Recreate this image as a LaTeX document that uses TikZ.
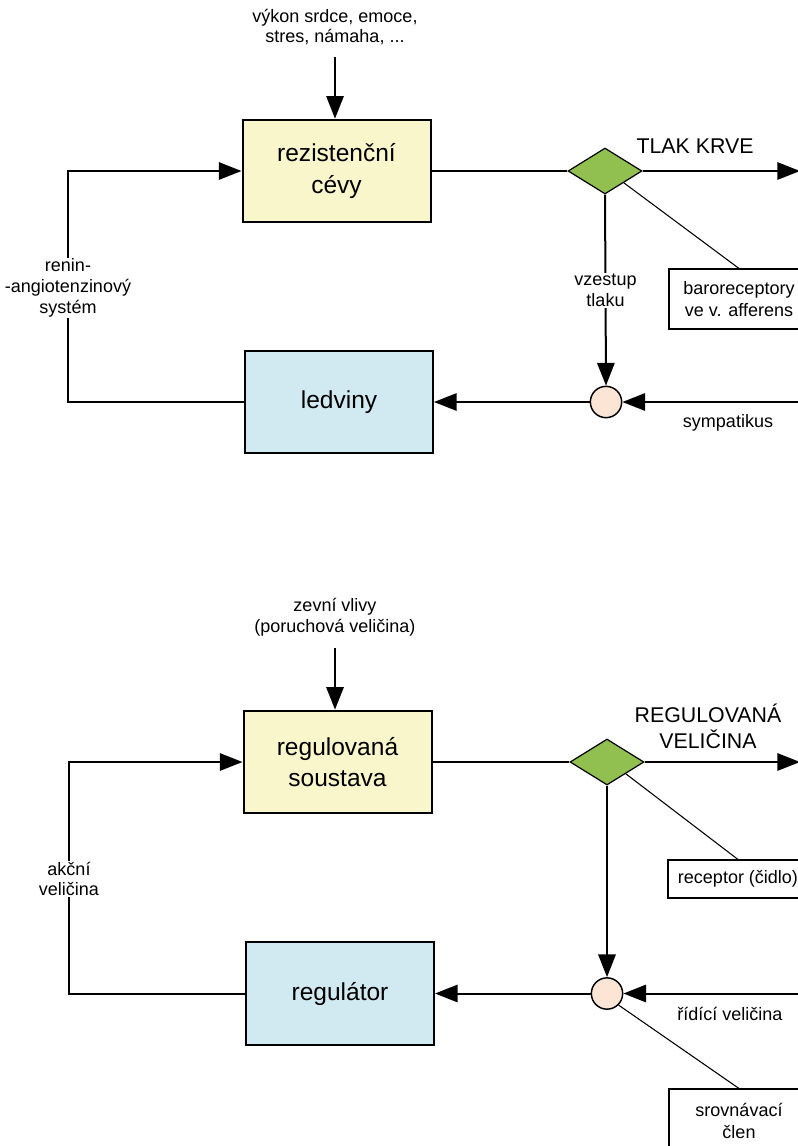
\documentclass[tikz,border=0pt]{standalone}
\usepackage{fontspec}
\setmainfont{Liberation Sans}
\usetikzlibrary{arrows.meta,shapes.geometric,positioning}

\definecolor{boxyellow}{HTML}{FAF6CC}
\definecolor{boxblue}{HTML}{D1E9F0}
\definecolor{decgreen}{HTML}{92C050}
\definecolor{sumpeach}{HTML}{FCE5D5}

\tikzset{
  block/.style={draw, line width=1.5pt, minimum width=141pt, minimum height=77pt, inner sep=0pt, align=center, font=\fontsize{18.4}{23.3}\selectfont},
  plant/.style={block, fill=boxyellow},
  ctrl/.style={block, fill=boxblue},
  branch/.style={diamond, draw, line width=0.9pt, fill=decgreen, minimum width=55.5pt, minimum height=34.5pt, inner sep=0pt},
  summer/.style={circle, draw, line width=1.1pt, fill=sumpeach, minimum size=23.5pt, inner sep=0pt},
  note/.style={draw, line width=0.8pt, minimum width=105pt, minimum height=45pt, inner sep=0pt, align=center, font=\fontsize{13.5}{17}\selectfont},
  lbl/.style={align=center, inner sep=1pt, font=\fontsize{13.5}{15.5}\selectfont},
  biglbl/.style={align=center, inner sep=0pt, font=\fontsize{16}{19.5}\selectfont},
  wire/.style={line width=1.5pt},
  arr/.style={wire, -{Triangle[length=17pt,width=13pt]}},
  thinwire/.style={line width=0.8pt}
}

\begin{document}
\begin{tikzpicture}[x=0.75pt,y=-0.75pt]
\useasboundingbox (0,0) rectangle (798,1146);

% krevni tlak
\node [lbl] (cause1) at (335,27) {výkon srdce, emoce,\\ stres, námaha, ...};
\coordinate (in1) at (335,57);
\node [plant] (rez) at (336.5,171) {rezistenční\\ cévy};
\node [branch] (dia1) at (605,171) {};
\node [biglbl] (tlak) at (695,146) {TLAK KRVE};
\coordinate (out1) at (800,171);
\node [note] (baro) at (739,299) {baroreceptory\\ ve v. afferens};
\node [summer] (sum1) at (606,402) {};
\coordinate (symp) at (800,402);
\node [lbl] (sympl) at (728,423) {sympatikus};
\node [ctrl] (led) at (339,402) {ledviny};
\coordinate (ret1) at (68,402);

\draw [arr] (in1) -- (in1 |- rez.north);
\draw [wire] (rez.east) -- (dia1.west);
\draw [arr] (dia1.east) -- (out1);
\draw [thinwire] (dia1.south east) -- (baro.north);
\draw [arr] (dia1.south) -- (sum1.north) node [lbl, fill=white, midway] (vzes) {vzestup\\ tlaku};
\draw [arr] (symp) -- (sum1.east);
\draw [arr] (sum1.west) -- (led.east);
\draw [arr] (led.west) -- (ret1) |- (rez.west);
\node [lbl, fill=white] (renin) at (68,288) {renin-\\ -angiotenzinový\\ systém};

% obecny regulacni obvod
\node [lbl] (cause2) at (335,617.5) {zevní vlivy\\ (poruchová veličina)};
\coordinate (in2) at (335,648);
\node [plant] (sous) at (337.5,762) {regulovaná\\ soustava};
\node [branch] (dia2) at (607,762) {};
\node [biglbl] (regvel) at (708,726) {REGULOVANÁ\\ VELIČINA};
\coordinate (out2) at (800,762);
\node [note, minimum height=28.5pt] (recp) at (738,879) {receptor (čidlo)};
\node [summer] (sum2) at (607,993.5) {};
\coordinate (ridi) at (800,993.5);
\node [lbl] (ridil) at (730,1014) {řídící veličina};
\node [note, minimum height=48pt] (srov) at (739,1121) {srovnávací\\ člen};
\node [ctrl] (regu) at (340,993.5) {regulátor};
\coordinate (ret2) at (69,993.5);

\draw [arr] (in2) -- (in2 |- sous.north);
\draw [wire] (sous.east) -- (dia2.west);
\draw [arr] (dia2.east) -- (out2);
\draw [thinwire] (dia2.south east) -- (recp.north);
\draw [arr] (dia2.south) -- (sum2.north);
\draw [arr] (ridi) -- (sum2.east);
\draw [thinwire] (sum2.south east) -- (srov.north);
\draw [arr] (sum2.west) -- (regu.east);
\draw [arr] (regu.west) -- (ret2) |- (sous.west);
\node [lbl, fill=white] (akcni) at (69,879) {akční\\ veličina};

\end{tikzpicture}
\end{document}
